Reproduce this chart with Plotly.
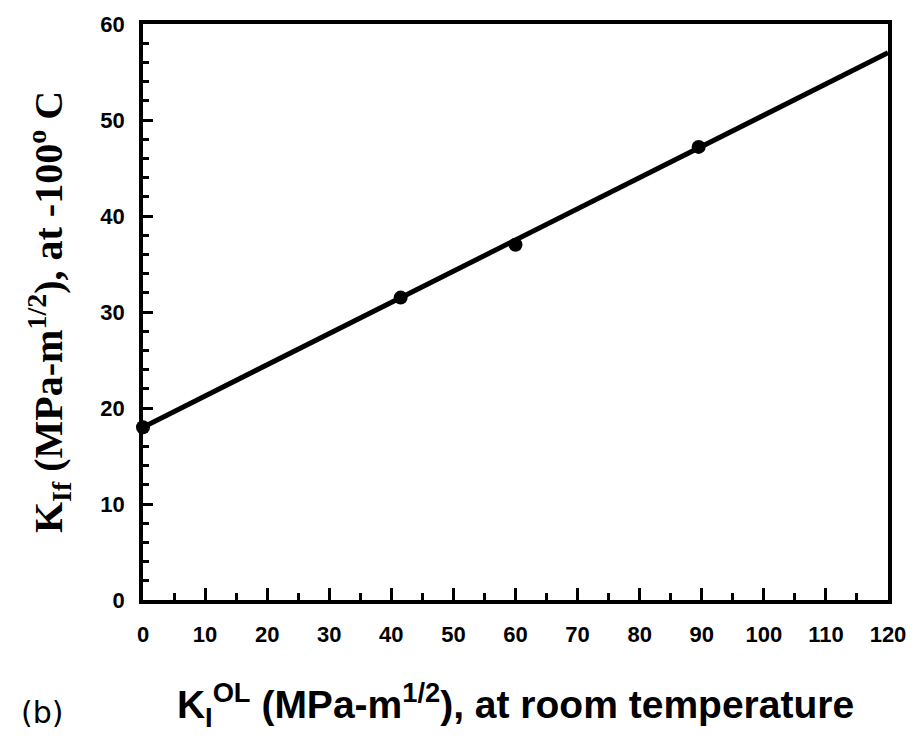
import plotly.graph_objects as go

# data
kol = [0, 41.5, 60, 89.5]
kif = [18, 31.5, 37, 47.2]
fit_x = [0, 120]
fit_y = [18, 57]
x_ticks = [0, 10, 20, 30, 40, 50, 60, 70, 80, 90, 100, 110, 120]
y_ticks = [0, 10, 20, 30, 40, 50, 60]

fig = go.Figure()
fig.add_trace(go.Scatter(x=fit_x, y=fit_y, mode="lines",
                         line=dict(color="black", width=5), showlegend=False))
fig.add_trace(go.Scatter(x=kol, y=kif, mode="markers",
                         marker=dict(color="black", size=14), showlegend=False,
                         cliponaxis=False))

tickfont = dict(family="Liberation Sans", size=22, color="black", weight="bold")

fig.update_layout(
    width=918, height=737,
    margin=dict(l=143, r=28, t=20, b=137),
    paper_bgcolor="white", plot_bgcolor="white",
    xaxis=dict(range=[0, 120], tickvals=x_ticks,
               ticktext=["<b>%d</b>" % v for v in x_ticks],
               showgrid=False, zeroline=False, showline=True, mirror=True,
               linecolor="black", linewidth=3.5, ticks="inside", ticklen=12,
               tickwidth=3, tickcolor="black", tickfont=tickfont,
               ticklabelstandoff=12,
               minor=dict(dtick=5, ticks="inside", ticklen=7, tickwidth=3, tickcolor="black"),
               title=dict(text="<b>K<sub>I</sub><sup>OL</sup> (MPa-m<sup>1/2</sup>), at room temperature</b>",
                          font=dict(family="Liberation Sans", size=39, color="black"),
                          standoff=46)),
    yaxis=dict(range=[0, 60], tickvals=y_ticks,
               ticktext=["<b>%d</b>" % v for v in y_ticks],
               showgrid=False, zeroline=False, showline=True, mirror=True,
               linecolor="black", linewidth=3.5, ticks="inside", ticklen=10,
               tickwidth=3, tickcolor="black", tickfont=tickfont,
               ticklabelstandoff=10,
               minor=dict(dtick=2, ticks="inside", ticklen=6, tickwidth=3, tickcolor="black"),
               title=dict(text="<b>K<sub>If</sub> (MPa-m<sup>1/2</sup>), at -100<sup>o</sup> C</b>",
                          font=dict(family="Liberation Serif", size=40, color="black"),
                          standoff=26)),
    annotations=[dict(text="(b)", xref="paper", yref="paper", x=-0.135, y=-0.195,
                      xanchor="center", yanchor="middle", showarrow=False,
                      font=dict(family="DejaVu Sans", size=30, color="black"))],
)

fig.write_html("out.html")
